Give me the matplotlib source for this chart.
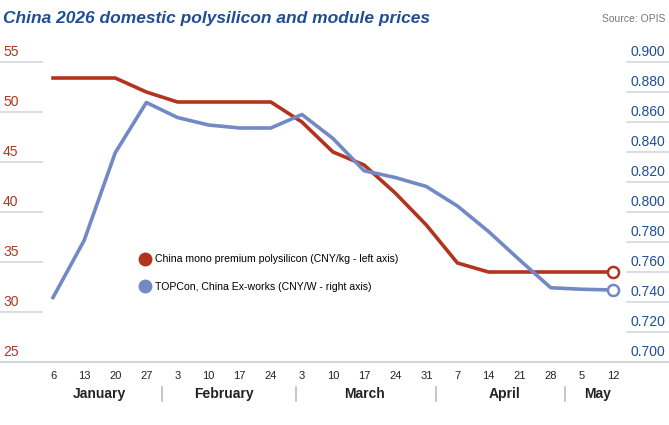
import matplotlib.pyplot as plt
from matplotlib.lines import Line2D
import matplotlib.transforms as mtransforms

plt.rcParams['font.family'] = ['Liberation Sans', 'DejaVu Sans']

days = ['6', '13', '20', '27', '3', '10', '17', '24', '3', '10', '17', '24', '31',
        '7', '14', '21', '28', '5', '12']
months = ['January', 'February', 'March', 'April', 'May']
month_weeks = [4, 4, 5, 4, 2]

poly = [53.4, 53.4, 53.4, 52.0, 51.0, 51.0, 51.0, 51.0, 49.0, 46.0, 44.7, 41.9, 38.7,
        34.9, 34.0, 34.0, 34.0, 34.0, 34.0]
topcon = [0.743, 0.781, 0.8395, 0.873, 0.863, 0.858, 0.856, 0.856, 0.865, 0.849, 0.8275,
          0.823, 0.817, 0.804, 0.787, 0.768, 0.7495, 0.7485, 0.748]

left_ticks = [25, 30, 35, 40, 45, 50, 55]
right_ticks = [0.700, 0.720, 0.740, 0.760, 0.780, 0.800, 0.820, 0.840, 0.860, 0.880, 0.900]
separators = [3.5, 7.8, 12.3, 16.45]

red = '#B2341E'
blue = '#7389C6'
navy = '#1F4E96'
grid = '#D3D7DE'

W, H = 669, 425
fig = plt.figure(figsize=(W / 100, H / 100), dpi=100)
ax = fig.add_axes([0, (H - 362) / H, 1, 300 / H])
ax2 = ax.twinx()

sp = 31.1
ax.set_xlim(-53 / sp, 18 + 56 / sp)
ax.set_ylim(25, 55)
ax2.set_ylim(0.700, 0.900)

for a in (ax, ax2):
    a.axis('off')

x = list(range(len(days)))
ax.plot(x, poly, color=red, lw=2.6, solid_joinstyle='round', zorder=3)
ax2.plot(x, topcon, color=blue, lw=2.6, solid_joinstyle='round', zorder=3)
ax.plot(x[-1], poly[-1], 'o', ms=8, mfc='white', mec=red, mew=1.8, zorder=4)
ax2.plot(x[-1], topcon[-1], 'o', ms=8, mfc='white', mec=blue, mew=1.8, zorder=4)

# axis labels sit on short grid stubs at the edges
lt = mtransforms.blended_transform_factory(ax.transAxes, ax.transData)
rt = mtransforms.blended_transform_factory(ax2.transAxes, ax2.transData)
for v in left_ticks:
    if v == 25:
        ax.plot([0, 1], [v, v], color=grid, lw=1.5, transform=lt, clip_on=False)
    else:
        ax.plot([0, 42 / W], [v, v], color=grid, lw=1.2, transform=lt, clip_on=False)
    ax.text(3 / W, v + 0.35, str(v), color=red, fontsize=10, ha='left', va='bottom',
            transform=lt)
for v in right_ticks:
    if v > 0.700:
        ax2.plot([627 / W, 1], [v, v], color=grid, lw=1.2, transform=rt, clip_on=False)
    ax2.text(665 / W, v + 0.0023, '%.3f' % v, color=navy, fontsize=10, ha='right',
             va='bottom', transform=rt)

xt = mtransforms.blended_transform_factory(ax.transData, fig.transFigure)
for i, d in enumerate(days):
    ax.text(i, (H - 376) / H, d, fontsize=8, ha='center', va='center', transform=xt,
            color='#222222')
start = 0
for m, n in zip(months, month_weeks):
    ax.text(start + (n - 1) / 2, (H - 394) / H, m, fontsize=10, fontweight='bold',
            ha='center', va='center', transform=xt, color='#222222')
    start += n
for s in separators:
    ax.plot([s, s], [(H - 387) / H, (H - 401) / H], color='#BBBBBB', lw=1.2,
            transform=xt, clip_on=False)

fig.text(3 / W, (H - 19) / H, 'China 2026 domestic polysilicon and module prices',
         fontsize=12.5, fontweight='bold', fontstyle='italic', color=navy,
         ha='left', va='center')
fig.text(665 / W, (H - 19) / H, 'Source: OPIS', fontsize=7.5, color='#777777',
         ha='right', va='center')

handles = [Line2D([], [], marker='o', ls='none', color=red, ms=9),
           Line2D([], [], marker='o', ls='none', color=blue, ms=9)]
labels = ['China mono premium polysilicon (CNY/kg - left axis)',
          'TOPCon, China Ex-works (CNY/W - right axis)']
fig.legend(handles, labels, loc='upper left', bbox_to_anchor=(133 / W, (H - 250) / H),
           frameon=False, fontsize=7.6, handletextpad=0.2, labelspacing=1.7,
           borderaxespad=0, handlelength=1.5)

fig.savefig('out.png', dpi=100)
